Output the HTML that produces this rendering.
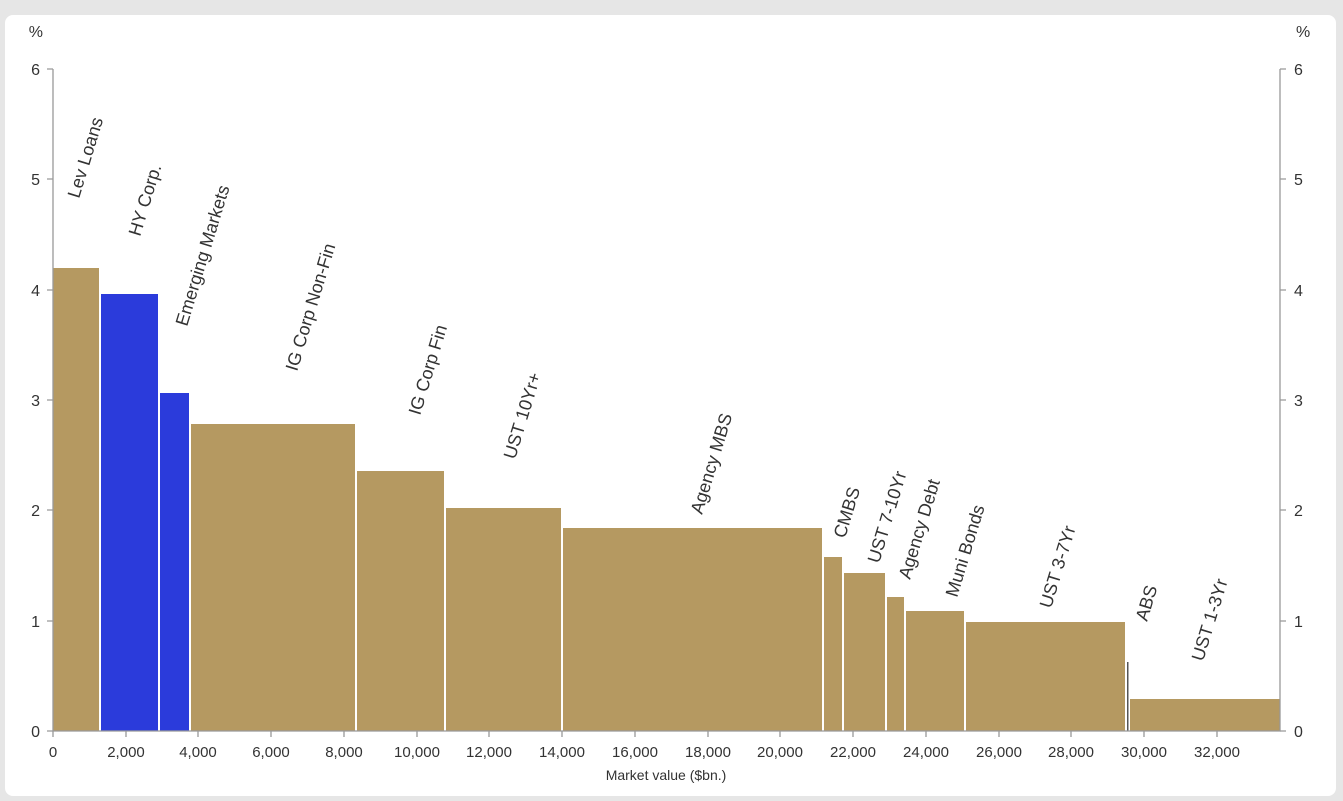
<!DOCTYPE html><html><head><style>body{margin:0;background:#e6e6e6;width:1343px;height:801px;overflow:hidden}
.card{position:absolute;left:5px;top:15px;width:1331px;height:781px;background:#fff;border-radius:8px}
svg{position:absolute;left:0;top:0}
text{font-family:"Liberation Sans",sans-serif;fill:#333}
</style></head><body><div class="card"></div>
<svg width="1343" height="801">
<g fill="#b59961" stroke="#fff" stroke-width="0">
<rect x="53" y="268" width="46" height="463"/>
<rect x="101" y="294" width="57" height="437" fill="#2b3bdb"/>
<rect x="160" y="393" width="29" height="338" fill="#2b3bdb"/>
<rect x="191" y="424" width="164" height="307"/>
<rect x="357" y="471" width="87" height="260"/>
<rect x="446" y="508" width="115" height="223"/>
<rect x="563" y="528" width="259" height="203"/>
<rect x="824" y="557" width="18" height="174"/>
<rect x="844" y="573" width="41" height="158"/>
<rect x="887" y="597" width="17" height="134"/>
<rect x="906" y="611" width="58" height="120"/>
<rect x="966" y="622" width="159" height="109"/>
<rect x="1127" y="662" width="1.5" height="69" fill="#555"/>
<rect x="1130" y="699" width="150" height="32"/>
</g>
<g stroke="#999" stroke-width="1.3" fill="none">
<path d="M53 69V731H1280V69"/>
<path d="M47 69H53M47 179H53M47 290H53M47 400H53M47 510H53M47 621H53M47 731H53"/>
<path d="M1280 69H1286M1280 179H1286M1280 290H1286M1280 400H1286M1280 510H1286M1280 621H1286M1280 731H1286"/>
<path d="M53 731v6M126 731v6M198 731v6M271 731v6M344 731v6M417 731v6M489 731v6M562 731v6M635 731v6M708 731v6M780 731v6M853 731v6M926 731v6M999 731v6M1071 731v6M1144 731v6M1217 731v6"/>
</g>
<g font-size="16" text-anchor="end">
<text x="43" y="37">%</text>
<text x="40" y="75">6</text><text x="40" y="185">5</text><text x="40" y="296">4</text><text x="40" y="406">3</text><text x="40" y="516">2</text><text x="40" y="627">1</text><text x="40" y="737">0</text>
</g>
<g font-size="16" text-anchor="start">
<text x="1296" y="37">%</text>
<text x="1294" y="75">6</text><text x="1294" y="185">5</text><text x="1294" y="296">4</text><text x="1294" y="406">3</text><text x="1294" y="516">2</text><text x="1294" y="627">1</text><text x="1294" y="737">0</text>
</g>
<g font-size="15" text-anchor="middle">
<text x="53" y="757">0</text><text x="126" y="757">2,000</text><text x="198" y="757">4,000</text><text x="271" y="757">6,000</text><text x="344" y="757">8,000</text><text x="417" y="757">10,000</text><text x="489" y="757">12,000</text><text x="562" y="757">14,000</text><text x="635" y="757">16,000</text><text x="708" y="757">18,000</text><text x="780" y="757">20,000</text><text x="853" y="757">22,000</text><text x="926" y="757">24,000</text><text x="999" y="757">26,000</text><text x="1071" y="757">28,000</text><text x="1144" y="757">30,000</text><text x="1217" y="757">32,000</text>
<text x="666" y="780" font-size="14">Market value ($bn.)</text>
</g>
<g font-size="18">
<text transform="translate(79,199) rotate(-73)">Lev Loans</text>
<text transform="translate(140,237) rotate(-73)">HY Corp.</text>
<text transform="translate(187,327) rotate(-73)">Emerging Markets</text>
<text transform="translate(297,372) rotate(-73)">IG Corp Non-Fin</text>
<text transform="translate(420,416) rotate(-73)">IG Corp Fin</text>
<text transform="translate(515,460) rotate(-73)">UST 10Yr+</text>
<text transform="translate(702,515) rotate(-73)">Agency MBS</text>
<text transform="translate(845,539) rotate(-73)">CMBS</text>
<text transform="translate(879,564) rotate(-73)">UST 7-10Yr</text>
<text transform="translate(910,580) rotate(-73)">Agency Debt</text>
<text transform="translate(957,598) rotate(-73)">Muni Bonds</text>
<text transform="translate(1051,609) rotate(-73)">UST 3-7Yr</text>
<text transform="translate(1147,622) rotate(-73)">ABS</text>
<text transform="translate(1203,662) rotate(-73)">UST 1-3Yr</text>
</g>
</svg></body></html>
